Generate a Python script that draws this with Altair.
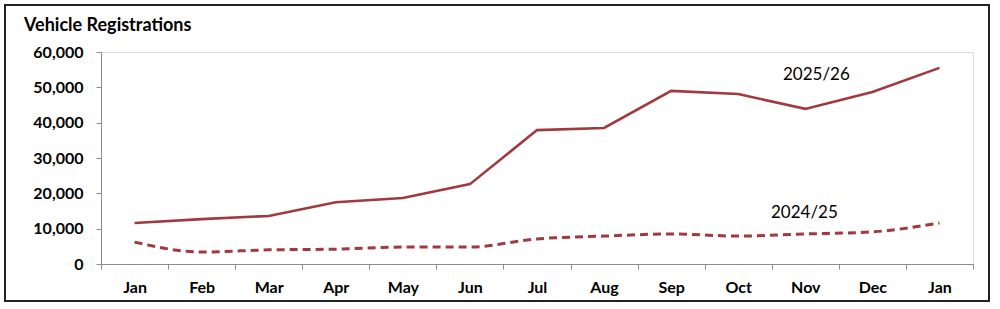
import altair as alt
import pandas as pd

months = ["Jan", "Feb", "Mar", "Apr", "May", "Jun", "Jul", "Aug", "Sep", "Oct", "Nov", "Dec", "Jan "]
fy2526 = [11600, 12700, 13600, 17500, 18700, 22600, 37900, 38500, 49000, 48100, 43900, 48700, 55500]
fy2425 = [6200, 3400, 4000, 4200, 4800, 4800, 7100, 7900, 8500, 7900, 8500, 9100, 11600]
y_ticks = [0, 10000, 20000, 30000, 40000, 50000, 60000]
title_text = "Vehicle Registrations"
label_2526 = "2025/26"
label_2425 = "2024/25"

RED = "#A1393F"
FONT = "Lato"

df_a = pd.DataFrame({"month": months, "value": fy2526})
df_b = pd.DataFrame({"month": months, "value": fy2425})

x_enc = alt.X(
    "month:N",
    sort=months,
    bandPosition=0.5,
    scale=alt.Scale(type="band", paddingInner=0, paddingOuter=0),
    axis=alt.Axis(
        title=None, tickBand="extent", labelAngle=0, labelFont=FONT, labelFontSize=16,
        labelFontWeight="bold", labelColor="#000000", labelPadding=10, tickSize=5,
        domainColor="#8c8c8c", tickColor="#8c8c8c", grid=False,
    ),
)
y_enc = alt.Y(
    "value:Q",
    scale=alt.Scale(domain=[0, 60000], nice=False),
    axis=alt.Axis(
        title=None, values=y_ticks, format=",.0f", labelFont=FONT, labelFontSize=16,
        labelFontWeight="bold", labelColor="#000000", labelPadding=13, tickSize=5,
        domainColor="#8c8c8c", tickColor="#8c8c8c", grid=False,
    ),
)

line_a = alt.Chart(df_a).mark_line(color=RED, strokeWidth=2.6).encode(x=x_enc, y=y_enc)
line_b = alt.Chart(df_b).mark_line(
    color=RED, strokeWidth=3, strokeDash=[8, 5], interpolate="monotone"
).encode(x=x_enc, y=y_enc)

txt_df = pd.DataFrame({"t": [0]})
lbl_a = alt.Chart(txt_df).mark_text(
    text=label_2526, font=FONT, fontSize=17, color="#000000", align="left", baseline="middle"
).encode(x=alt.value(682), y=alt.value(23))
lbl_b = alt.Chart(txt_df).mark_text(
    text=label_2425, font=FONT, fontSize=17, color="#000000", align="left", baseline="middle"
).encode(x=alt.value(670), y=alt.value(161))
ttl = alt.Chart(txt_df).mark_text(
    text=title_text, font=FONT, fontSize=18, fontWeight="bold", color="#000000",
    align="left", baseline="middle"
).encode(x=alt.value(-77), y=alt.value(-26))
border = alt.Chart(txt_df).mark_rect(
    fill=None, stroke="#222222", strokeWidth=2
).encode(x=alt.value(-96), x2=alt.value(888), y=alt.value(-47), y2=alt.value(249))

chart = alt.layer(border, line_b, line_a, lbl_a, lbl_b, ttl).properties(
    width=872, height=212,
    autosize=alt.AutoSizeParams(type="none"),
    padding={"left": 101, "top": 52, "right": 27, "bottom": 45},
).configure_view(stroke=None).configure(background="#ffffff")

chart.save("out.html", embed_options={"renderer": "svg", "actions": False})
